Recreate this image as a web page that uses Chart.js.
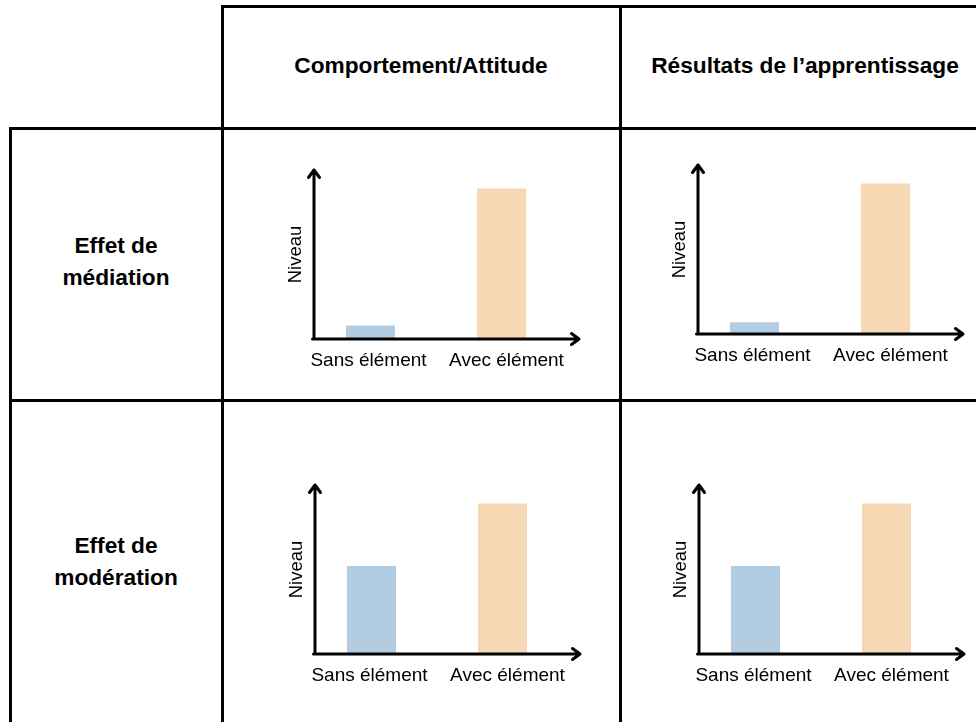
<!DOCTYPE html>
<html>
<head>
<meta charset="utf-8">
<script src="https://cdn.jsdelivr.net/npm/chart.js@4/dist/chart.umd.min.js"></script>
<style>
  body { margin: 0; background: #fff; width: 976px; height: 722px; overflow: hidden; position: relative; font-family: "Liberation Sans", Arial, sans-serif; }
  .ln { position: absolute; background: #000; }
  .hd { position: absolute; text-align: center; font-weight: bold; font-size: 22.7px; line-height: 32px; color: #000; white-space: nowrap; }
  canvas { position: absolute; }
</style>
</head>
<body>
<!-- table lines -->
<div class="ln" style="left:222px;top:5px;width:760px;height:3px"></div>
<div class="ln" style="left:9px;top:127px;width:970px;height:3px"></div>
<div class="ln" style="left:9px;top:399px;width:970px;height:3px"></div>
<div class="ln" style="left:221px;top:5px;width:3px;height:720px"></div>
<div class="ln" style="left:619px;top:5px;width:3px;height:720px"></div>
<div class="ln" style="left:9px;top:127px;width:3px;height:600px"></div>

<div class="hd" style="left:222px;top:49px;width:398px">Comportement/Attitude</div>
<div class="hd" style="left:620px;top:49px;width:370px">Résultats de l’apprentissage</div>
<div class="hd" style="left:10px;top:229px;width:212px">Effet de<br>médiation</div>
<div class="hd" style="left:10px;top:529px;width:212px">Effet de<br>modération</div>

<canvas id="c1" width="396" height="269" style="left:224px;top:130px"></canvas>
<canvas id="c2" width="354" height="269" style="left:622px;top:130px"></canvas>
<canvas id="c3" width="396" height="320" style="left:224px;top:402px"></canvas>
<canvas id="c4" width="354" height="320" style="left:622px;top:402px"></canvas>

<script>
const categories = ["Sans élément", "Avec élément"];
const mediationBehaviour = [8, 89];
const mediationLearning = [7, 89];
const moderationBehaviour = [52, 89];
const moderationLearning = [52, 89];
const yTitle = "Niveau";
const barColors = ["#b2cde1", "#f6d8b4"];

// draws the arrow axes, category labels and the "Niveau" title
const arrowAxes = {
  id: "arrowAxes",
  afterDatasetsDraw(chart) {
    const ctx = chart.ctx;
    const xs = chart.scales.x, ys = chart.scales.y;
    const ax = chart.chartArea.left + 9;
    const zero = ys.getPixelForValue(0);
    const top = ys.getPixelForValue(100);
    const end = chart.chartArea.right + 12;
    ctx.save();
    ctx.strokeStyle = "#000";
    ctx.lineWidth = 3;
    ctx.lineCap = "round";
    ctx.lineJoin = "round";
    ctx.beginPath();
    ctx.moveTo(ax, zero); ctx.lineTo(ax, top);
    ctx.moveTo(ax - 5.5, top + 7.5); ctx.lineTo(ax, top); ctx.lineTo(ax + 5.5, top + 7.5);
    ctx.moveTo(ax - 1.5, zero); ctx.lineTo(end, zero);
    ctx.moveTo(end - 7.5, zero - 5.5); ctx.lineTo(end, zero); ctx.lineTo(end - 7.5, zero + 5.5);
    ctx.stroke();

    ctx.fillStyle = "#000";
    ctx.font = "19px 'Liberation Sans', Arial, sans-serif";
    ctx.textAlign = "center";
    ctx.textBaseline = "alphabetic";
    const nudge = [-2, 5];
    chart.data.labels.forEach((l, i) => {
      ctx.fillText(l, xs.getPixelForTick(i) + nudge[i], zero + 26.5);
    });
    ctx.font = "18.5px 'Liberation Sans', Arial, sans-serif";
    ctx.translate(ax - 13, (zero + top) / 2);
    ctx.rotate(-Math.PI / 2);
    ctx.fillText(yTitle, 0, 0);
    ctx.restore();
  }
};

function makeChart(id, values, pad) {
  new Chart(document.getElementById(id), {
    type: "bar",
    data: {
      labels: categories,
      datasets: [{ data: values, backgroundColor: barColors, borderWidth: 0, barPercentage: 0.374, categoryPercentage: 1 }]
    },
    options: {
      responsive: false,
      animation: false,
      devicePixelRatio: 1,
      layout: { padding: pad },
      plugins: { legend: { display: false }, tooltip: { enabled: false } },
      scales: {
        x: { display: false, offset: true },
        y: { display: false, min: 0, max: 100 }
      }
    },
    plugins: [arrowAxes]
  });
}

// padding puts the plot area where the sketch has it
makeChart("c1", mediationBehaviour, { left: 81, top: 40, right: 53, bottom: 60 });
makeChart("c2", mediationLearning, { left: 67, top: 35, right: 25, bottom: 65 });
makeChart("c3", moderationBehaviour, { left: 82, top: 83, right: 52, bottom: 68 });
makeChart("c4", moderationLearning, { left: 68, top: 83, right: 24, bottom: 68 });
</script>
</body>
</html>
